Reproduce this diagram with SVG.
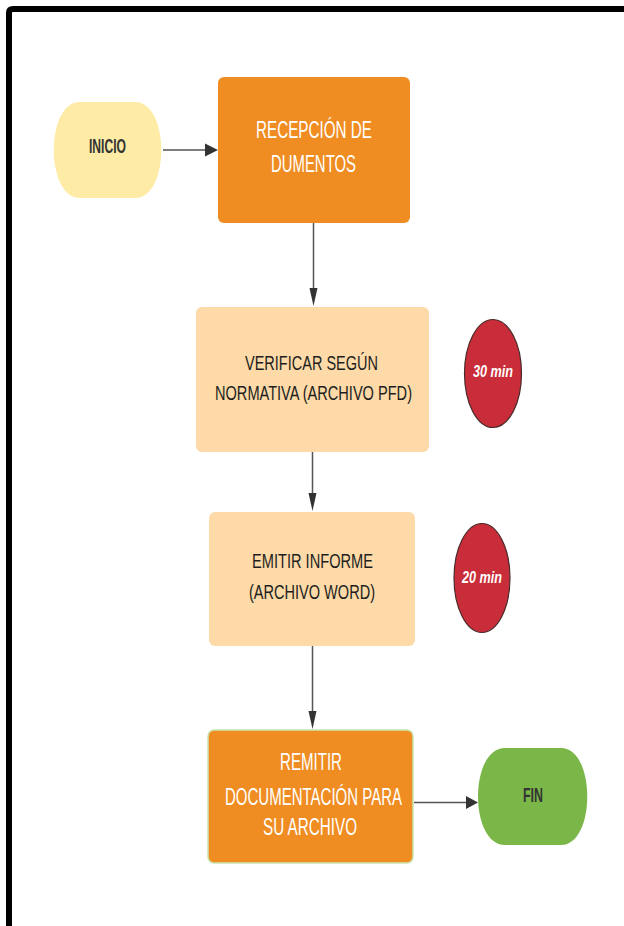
<svg xmlns="http://www.w3.org/2000/svg" width="624" height="926" viewBox="0 0 624 926">
  <style>
    .lbl { font-family: "Liberation Sans", Arial, sans-serif; text-anchor: middle; }
    .white { fill: #ffffff; font-size: 24px; }
    .dark { fill: #1e1e1e; font-size: 21px; }
    .term { fill: #333333; font-size: 20px; font-weight: bold; }
    .time { fill: #ffffff; font-size: 17px; font-weight: bold; font-style: italic; }
    .conn { stroke: #555555; stroke-width: 1.5; fill: none; }
    .head { fill: #333333; }
  </style>

  <rect width="624" height="926" fill="#ffffff"/>
  <!-- outer frame (open at right and bottom) -->
  <path d="M9 940 V13 Q9 9 13 9 H640" fill="none" stroke="#000000" stroke-width="6"/>

  <!-- connectors -->
  <g id="connectors">
    <line class="conn" x1="163" y1="150" x2="206" y2="150"/>
    <polygon class="head" points="218,150 205,143.5 205,156.5"/>

    <line class="conn" x1="313.5" y1="223" x2="313.5" y2="292"/>
    <polygon class="head" points="313.5,306 309.5,288 317.5,288"/>

    <line class="conn" x1="312.5" y1="452" x2="312.5" y2="497"/>
    <polygon class="head" points="312.5,511 308.5,493 316.5,493"/>

    <line class="conn" x1="312.5" y1="646" x2="312.5" y2="715"/>
    <polygon class="head" points="312.5,729 308.5,711 316.5,711"/>

    <line class="conn" x1="414" y1="802.5" x2="466" y2="802.5"/>
    <polygon class="head" points="478,802.5 466,796 466,809"/>
  </g>

  <g id="inicio">
    <path d="M80 102 H135 C170 102 170 198 135 198 H80 C45 198 45 102 80 102 Z" fill="#FDEBA6"/>
    <text class="lbl term" x="107.5" y="153" textLength="37" lengthAdjust="spacingAndGlyphs">INICIO</text>
  </g>

  <g id="recepcion">
    <rect x="218" y="77" width="192" height="146" rx="6" fill="#EF8D22"/>
    <text class="lbl white" x="314" y="138" textLength="116" lengthAdjust="spacingAndGlyphs">RECEPCIÓN DE</text>
    <text class="lbl white" x="313.5" y="172" textLength="85" lengthAdjust="spacingAndGlyphs">DUMENTOS</text>
  </g>

  <g id="verificar">
    <rect x="196" y="307" width="233" height="145" rx="6" fill="#FDDAA7"/>
    <text class="lbl dark" x="311.5" y="370" textLength="133" lengthAdjust="spacingAndGlyphs">VERIFICAR SEGÚN</text>
    <text class="lbl dark" x="313.5" y="400" textLength="197" lengthAdjust="spacingAndGlyphs">NORMATIVA (ARCHIVO PFD)</text>
  </g>

  <g id="tiempo30">
    <ellipse cx="493" cy="373.5" rx="28.5" ry="54" fill="#C92D39" stroke="#4a2a2a" stroke-width="1.2"/>
    <text class="lbl time" x="493" y="377" textLength="40" lengthAdjust="spacingAndGlyphs">30 min</text>
  </g>

  <g id="emitir">
    <rect x="209" y="512" width="206" height="134" rx="6" fill="#FDDAA7"/>
    <text class="lbl dark" x="312.5" y="568" textLength="121" lengthAdjust="spacingAndGlyphs">EMITIR INFORME</text>
    <text class="lbl dark" x="312" y="599" textLength="126" lengthAdjust="spacingAndGlyphs">(ARCHIVO WORD)</text>
  </g>

  <g id="tiempo20">
    <ellipse cx="482" cy="578" rx="28" ry="54.5" fill="#C92D39" stroke="#4a2a2a" stroke-width="1.2"/>
    <text class="lbl time" x="482" y="583" textLength="40" lengthAdjust="spacingAndGlyphs">20 min</text>
  </g>

  <g id="remitir">
    <rect x="208" y="730" width="205" height="133" rx="6" fill="#EF8D22" stroke="#C8E6B0" stroke-width="1.5"/>
    <text class="lbl white" x="311" y="770" textLength="62" lengthAdjust="spacingAndGlyphs">REMITIR</text>
    <text class="lbl white" x="313.5" y="805" textLength="177" lengthAdjust="spacingAndGlyphs">DOCUMENTACIÓN PARA</text>
    <text class="lbl white" x="310" y="835" textLength="94" lengthAdjust="spacingAndGlyphs">SU ARCHIVO</text>
  </g>

  <g id="fin">
    <path d="M505 748 H561 C596 748 596 845 561 845 H505 C469 845 469 748 505 748 Z" fill="#7AB648"/>
    <text class="lbl term" x="533" y="802" textLength="20" lengthAdjust="spacingAndGlyphs">FIN</text>
  </g>
</svg>
